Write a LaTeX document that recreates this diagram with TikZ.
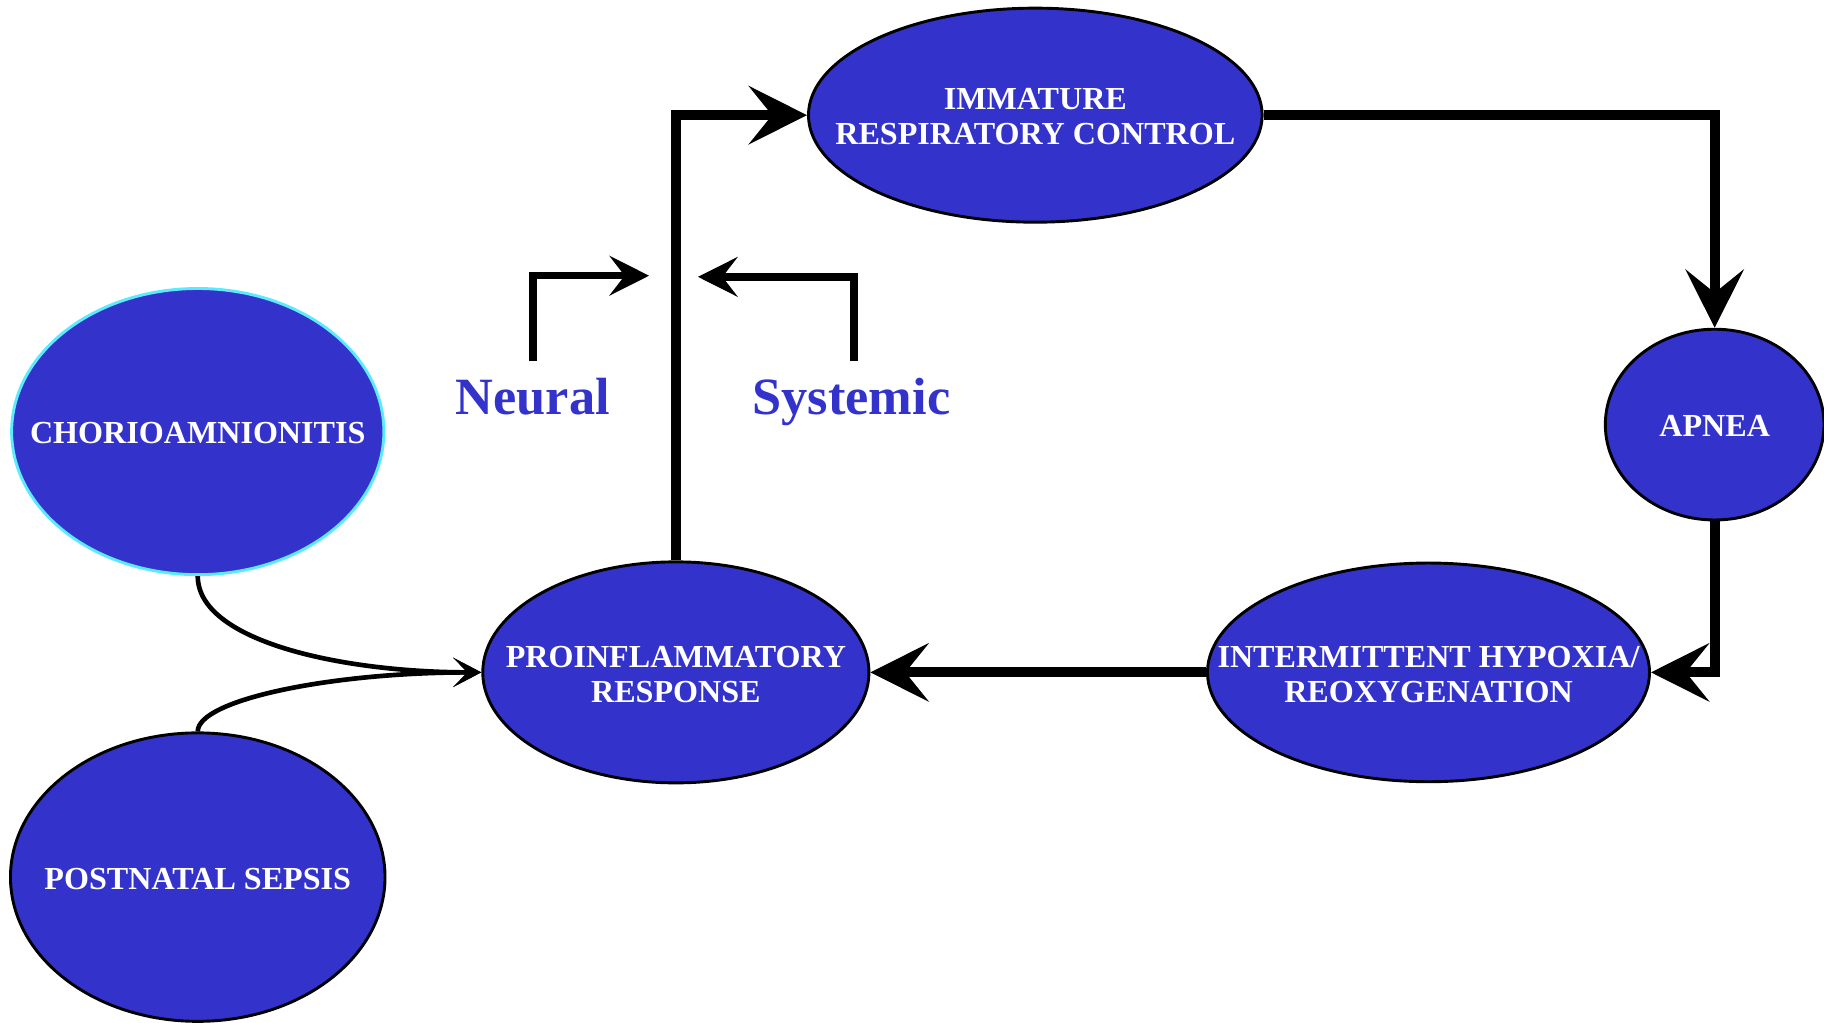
\documentclass[tikz,border=0pt]{standalone}
\usepackage{fontspec}
\setmainfont{Liberation Serif}
\usetikzlibrary{shapes.geometric,arrows.meta}
\definecolor{nodeblue}{RGB}{51,51,204}
\definecolor{rimcyan}{RGB}{90,235,255}
\begin{document}
\begin{tikzpicture}[x=1pt,y=-1pt,
  blob/.style={ellipse,draw=black,line width=2.5pt,fill=nodeblue,inner sep=0pt},
  blobtext/.style={text=white,font=\bfseries\fontsize{27.6}{30}\selectfont,align=center,yshift=-1.5pt},
  flow/.style={line width=8.5pt,-{Stealth[length=50pt,width=50pt,inset=20pt]}},
  feed/.style={line width=4pt,-{Stealth[length=24pt,width=25pt,inset=12pt]}},
  route/.style={line width=6.5pt,-{Stealth[length=34pt,width=34pt,inset=13pt]}},
  tag/.style={text=nodeblue,anchor=base,font=\bfseries\fontsize{45}{48}\selectfont}]
\useasboundingbox (0,0) rectangle (1568,879);

% cycle nodes
\node[blob,minimum width=390pt,minimum height=184pt,
  label={[blobtext]center:IMMATURE\\RESPIRATORY CONTROL}] (imm) at (890,99) {};
\node[blob,minimum width=188pt,minimum height=164pt,
  label={[blobtext]center:APNEA}] (apn) at (1474,365) {};
\node[blob,minimum width=380pt,minimum height=188pt,
  label={[blobtext]center:INTERMITTENT HYPOXIA/\\REOXYGENATION}] (int) at (1228,578) {};
\node[blob,minimum width=332pt,minimum height=190pt,
  label={[blobtext]center:PROINFLAMMATORY\\RESPONSE}] (pro) at (581,578) {};

% triggers
\node[blob,draw=rimcyan,minimum width=320pt,minimum height=246pt,
  label={[blobtext]center:CHORIOAMNIONITIS}] (cho) at (170,371) {};
\node[blob,minimum width=322pt,minimum height=248pt,
  label={[blobtext]center:POSTNATAL SEPSIS}] (pos) at (170,754) {};

% cycle connectors
\draw[flow] (pro.north) |- (imm.west);
\draw[flow] (imm.east) -| (apn.north);
\draw[flow] (apn.south) |- (int.east);
\draw[flow] (int.west) -- (pro.east);

% trigger connectors
\draw[feed] (cho.south) .. controls +(0,56) and +(-120,0) .. (pro.west);
\draw[feed] (pos.north) .. controls +(0,-27) and +(-130,0) .. (pro.west);

% neural and systemic pathways
\coordinate (n0) at (458,310);
\coordinate (n1) at (558,237);
\coordinate (s0) at (734,310);
\coordinate (s1) at (600,238);
\draw[route] (n0) |- (n1);
\draw[route] (s0) |- (s1);
\node[tag] (neural) at (458,356) {Neural};
\node[tag] (systemic) at (732,356) {Systemic};
\end{tikzpicture}
\end{document}
